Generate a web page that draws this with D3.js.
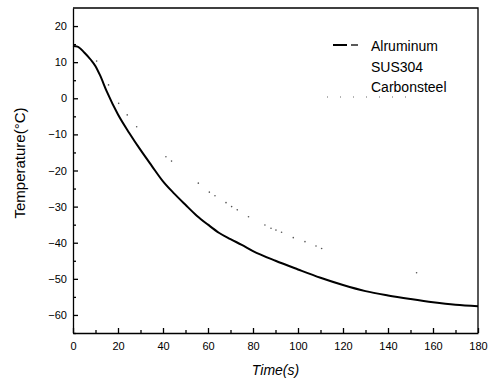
<!DOCTYPE html>
<html lang="en">
<head>
    <meta charset="UTF-8">
    <title>Temperature vs Time</title>
    <style>
        body { margin: 0; background: #fff; }
        svg { display: block; font-family: Arial, "Liberation Sans", sans-serif; }
        .axis path, .axis line { stroke: #000; stroke-width: 1.3px; }
        .axis text { font-size: 11px; fill: #000; }
        .legend text { font-size: 14px; fill: #000; }
    </style>
</head>
<body>
<svg width="489" height="381"></svg>
<script src="https://cdnjs.cloudflare.com/ajax/libs/d3/7.8.5/d3.min.js"></script>
<script>
    // Alruminum curve (time in s, temperature in °C)
    let aluTime = [0, 2, 5, 8, 10, 12, 15, 20, 25, 30, 35, 40, 45, 50, 55, 60, 65, 70, 75, 80,
        90, 100, 110, 120, 130, 140, 150, 160, 170, 180];
    let aluTemp = [14.5, 14.3, 12.7, 10.6, 8.9, 6.4, 1.9, -4.5, -9.6, -14.3, -18.7, -23.0, -26.4,
        -29.5, -32.5, -35.0, -37.3, -39.0, -40.6, -42.3, -45.0, -47.4, -49.7, -51.7, -53.4,
        -54.6, -55.6, -56.5, -57.2, -57.6];

    // SUS304: sparse dots only
    let susTime = [10.5, 15.8, 20.3, 24.1, 28.3, 41.3, 43.8, 55.7, 60.6, 63.1, 68, 70.5, 73, 78,
        85.3, 88, 90.2, 92.7, 97.9, 103.1, 108, 110.5, 152.7];
    let susTemp = [10.3, 3.7, -1.4, -4.6, -7.9, -16.2, -17.4, -23.5, -26, -27, -28.9, -30, -30.9,
        -32.8, -35.1, -36, -36.5, -37.1, -38.6, -39.7, -40.9, -41.6, -48.3];

    let seriesNames = ["Alruminum", "SUS304", "Carbonsteel"];
    let xTicks = [0, 20, 40, 60, 80, 100, 120, 140, 160, 180];
    let yTicks = [-60, -50, -40, -30, -20, -10, 0, 10, 20];

    let svg = d3.select("svg"),
        margin = {top: 8, right: 11, bottom: 48, left: 73},
        width = +svg.attr("width") - margin.left - margin.right,
        height = +svg.attr("height") - margin.top - margin.bottom,
        g = svg.append("g").attr("transform", "translate(" + margin.left + "," + margin.top + ")");

    let x = d3.scaleLinear().domain([0, 180]).range([0, width]);
    let y = d3.scaleLinear().domain([-65, 25]).range([height, 0]);

    // minor ticks, inside
    g.append("g").attr("class", "axis")
        .attr("transform", "translate(0," + height + ")")
        .call(d3.axisBottom(x).tickValues(d3.range(10, 180, 20)).tickSize(-3).tickFormat(""))
        .select(".domain").remove();
    g.append("g").attr("class", "axis")
        .call(d3.axisLeft(y).tickValues(d3.range(-65, 25, 10)).tickSize(-3).tickFormat(""))
        .select(".domain").remove();

    // major ticks with labels
    g.append("g").attr("class", "axis")
        .attr("transform", "translate(0," + height + ")")
        .call(d3.axisBottom(x).tickValues(xTicks).tickSizeInner(-5).tickSizeOuter(0).tickPadding(9));
    g.append("g").attr("class", "axis")
        .call(d3.axisLeft(y).tickValues(yTicks).tickSizeInner(-5).tickSizeOuter(0).tickPadding(6));

    // frame top and right
    g.append("path")
        .attr("d", "M0,0H" + width + "V" + height)
        .attr("fill", "none")
        .attr("stroke", "#000")
        .attr("stroke-width", 1.3);

    let aluData = aluTime.map(function (t, i) { return [t, aluTemp[i]]; });
    let line = d3.line()
        .x(function (d) { return x(d[0]); })
        .y(function (d) { return y(d[1]); })
        .curve(d3.curveMonotoneX);

    g.append("path")
        .datum(aluData)
        .attr("fill", "none")
        .attr("stroke", "#000")
        .attr("stroke-width", 2)
        .attr("d", line);

    g.selectAll(".sus")
        .data(susTime.map(function (t, i) { return [t, susTemp[i]]; }))
        .enter().append("circle")
        .attr("class", "sus")
        .attr("cx", function (d) { return x(d[0]); })
        .attr("cy", function (d) { return y(d[1]); })
        .attr("r", 0.8)
        .attr("fill", "#555");

    // axis titles
    svg.append("text")
        .attr("x", margin.left + width / 2)
        .attr("y", 375)
        .attr("text-anchor", "middle")
        .style("font-size", "14px")
        .style("font-style", "italic")
        .text("Time(s)");

    svg.append("text")
        .attr("transform", "translate(25,163) rotate(-90)")
        .attr("text-anchor", "middle")
        .style("font-size", "15px")
        .text("Temperature(°C)");

    // legend
    let legend = svg.append("g").attr("class", "legend");
    legend.selectAll("text")
        .data(seriesNames)
        .enter().append("text")
        .attr("x", 371)
        .attr("y", function (d, i) { return 51 + i * 20.5; })
        .text(function (d) { return d; });

    legend.append("line")
        .attr("x1", 333).attr("x2", 347).attr("y1", 45).attr("y2", 45)
        .attr("stroke", "#000").attr("stroke-width", 2);
    legend.append("line")
        .attr("x1", 351).attr("x2", 358).attr("y1", 45).attr("y2", 45)
        .attr("stroke", "#000").attr("stroke-width", 1.3);
    legend.append("line")
        .attr("x1", 327).attr("x2", 412).attr("y1", 97).attr("y2", 97)
        .attr("stroke", "#666").attr("stroke-width", 1)
        .attr("stroke-dasharray", "1,12");
</script>
</body>
</html>
